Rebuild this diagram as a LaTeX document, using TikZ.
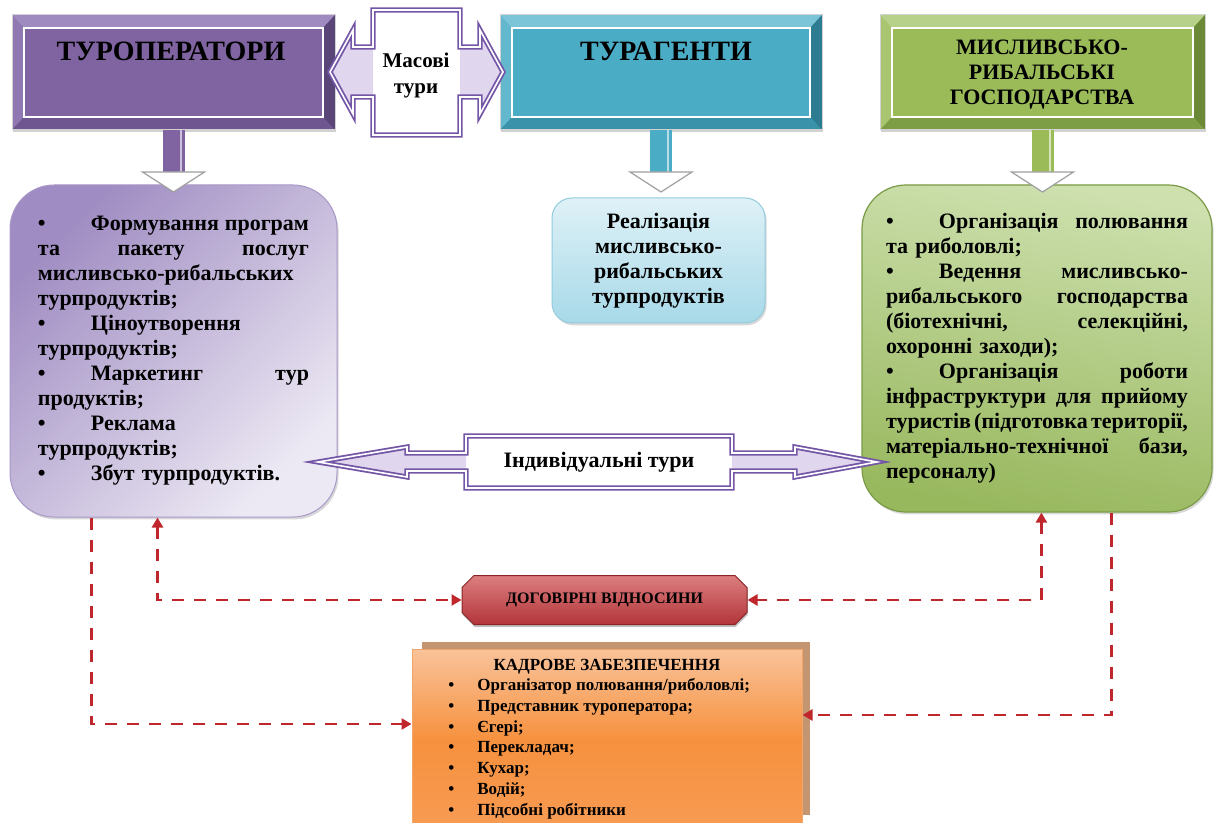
\documentclass[tikz,border=0pt]{standalone}
\usepackage{fontspec}
\setmainfont{Liberation Serif}
\usetikzlibrary{calc,arrows.meta,shapes.misc,shadows}
\definecolor{purF}{HTML}{8064A2}
\definecolor{purT}{HTML}{A08BC0}
\definecolor{purLf}{HTML}{9079B2}
\definecolor{purR}{HTML}{5A4578}
\definecolor{purBt}{HTML}{6F5690}
\definecolor{tlF}{HTML}{4BACC6}
\definecolor{tlT}{HTML}{7CC5D8}
\definecolor{tlLf}{HTML}{63B8CE}
\definecolor{tlR}{HTML}{2D7C91}
\definecolor{tlBt}{HTML}{3992AA}
\definecolor{grF}{HTML}{9BBB59}
\definecolor{grT}{HTML}{B7D08A}
\definecolor{grLf}{HTML}{A9C570}
\definecolor{grR}{HTML}{6C8937}
\definecolor{grBt}{HTML}{7E9E45}
\definecolor{arP}{HTML}{7456A6}
\definecolor{lav}{HTML}{E0D7EE}
\definecolor{dred}{HTML}{C0272D}
\definecolor{lpA}{HTML}{9F8CC2}
\definecolor{lpB}{HTML}{EDE9F4}
\definecolor{lpE}{HTML}{A998C8}
\definecolor{gA}{HTML}{CDE0AE}
\definecolor{gB}{HTML}{98B85E}
\definecolor{gE}{HTML}{7A9A45}
\definecolor{cA}{HTML}{DFF1F7}
\definecolor{cB}{HTML}{A7D9E8}
\definecolor{cE}{HTML}{92CCDD}
\definecolor{drT}{HTML}{DC7E7F}
\definecolor{drM}{HTML}{CB4E51}
\definecolor{drB}{HTML}{B3353A}
\definecolor{drE}{HTML}{8A2326}
\definecolor{kT}{HTML}{F9C39A}
\definecolor{kM}{HTML}{F6913E}
\definecolor{kB}{HTML}{F79A52}
\definecolor{kE}{HTML}{F0A56A}
\definecolor{kback}{HTML}{C39570}

\newcommand\bevelbox[6]{%
  \fill[#2] (#1.north west) -- (#1.north east) -- ($(#1.north east)+(-12,13)$) -- ($(#1.north west)+(12,13)$) -- cycle;
  \fill[#3] (#1.north west) -- ($(#1.north west)+(12,13)$) -- ($(#1.south west)+(12,-13)$) -- (#1.south west) -- cycle;
  \fill[#4] (#1.north east) -- (#1.south east) -- ($(#1.south east)+(-12,-13)$) -- ($(#1.north east)+(-12,13)$) -- cycle;
  \fill[#5] (#1.south west) -- ($(#1.south west)+(12,-13)$) -- ($(#1.south east)+(-12,-13)$) -- (#1.south east) -- cycle;
  \draw[white, line width=0.8pt, fill=#6] ($(#1.north west)+(12,13)$) rectangle ($(#1.south east)+(-12,-13)$);
  \draw[gray!35, line width=0.5pt] (#1.north west) rectangle (#1.south east);
}
\newcommand\blockarrow[3]{%
  \fill[#3] let \p1=(#1.south) in (\x1-5.5pt,\y1) rectangle (\x1+5.5pt,\y1-21pt);
  \fill[#3!40!white] let \p1=(#1.south) in (\x1+3pt,\y1) rectangle (\x1+4.2pt,\y1-21pt);
  \filldraw[fill=white, draw=gray!75, line width=0.6pt] let \p1=(#1.south), \p2=(#2.north) in
    (\x1-15.5pt,\y1-21pt) -- (\x1+15.5pt,\y1-21pt) -- (\x1,\y1-31pt) -- cycle;
}
\newcommand\jl[2]{\makebox[#1][l]{#2}}
\newcommand\bul{\makebox[26.5pt][l]{•}}
\newcommand\kb{\makebox[14.5pt][l]{•}}

\begin{document}
\begin{tikzpicture}[x=0.5pt,y=-0.5pt,
  topbox/.style={rectangle, minimum height=57.5pt, inner sep=0pt, outer sep=0pt, fill=#1,
     drop shadow={opacity=0.35,shadow xshift=0.6pt,shadow yshift=-1.2pt}},
  hd/.style={font=\fontsize{14}{16}\selectfont\bfseries},
  bd/.style={font=\fontsize{11}{12.5}\selectfont\bfseries},
  shd/.style={drop shadow={opacity=0.3,shadow xshift=0.8pt,shadow yshift=-1.2pt}},
  lbox/.style={rectangle, rounded corners=22pt, minimum height=166pt, text width=135.5pt,
     inner xsep=14pt, inner ysep=0pt, align=left, top color=lpA, bottom color=lpB,
     shading angle=45, draw=lpE, line width=0.5pt, shd, bd},
  rbox/.style={rectangle, rounded corners=22pt, minimum height=163.5pt, text width=151pt,
     inner xsep=12pt, inner ysep=0pt, align=left, top color=gA, bottom color=gB,
     shading angle=-10, draw=gE, line width=0.6pt, shd, bd},
  mbox/.style={rectangle, rounded corners=10pt, minimum height=62.5pt, minimum width=106.5pt,
     text width=92pt, inner sep=0pt, align=center, top color=cA, bottom color=cB,
     draw=cE, line width=0.5pt, shd, bd},
  dblp/.style={draw=arP, double=white, line width=0.9pt, double distance=0.8pt, line join=miter},
  dbox/.style={chamfered rectangle, chamfered rectangle xsep=3pt, chamfered rectangle ysep=3pt,
     minimum width=142.5pt, minimum height=24.5pt, inner sep=0pt, top color=drT, middle color=drM,
     bottom color=drB, draw=drE, line width=0.5pt, font=\fontsize{8}{9}\selectfont\bfseries,
     drop shadow={opacity=0.5,shadow xshift=0.3pt,shadow yshift=-1.3pt}},
  kbox/.style={rectangle, minimum width=195pt, minimum height=87pt, inner sep=0pt,
     draw=kE, line width=0.5pt},
  kf/.style={font=\fontsize{8.5}{10.4}\selectfont\bfseries},
  dsh/.style={draw=dred, line width=1.4pt, dash pattern=on 6pt off 5pt}
]
\useasboundingbox (0,0) rectangle (1215,823);
\fill[white] (0,0) rectangle (1215,823);

% top boxes
\node[topbox=purF, minimum width=161.5pt] (A) at (173.5,72.5) {};
\bevelbox{A}{purT}{purLf}{purR}{purBt}{purF}
\node[hd] (At) at (171,51) {ТУРОПЕРАТОРИ};

\node[topbox=tlF, minimum width=161pt] (B) at (661,72.5) {};
\bevelbox{B}{tlT}{tlLf}{tlR}{tlBt}{tlF}
\node[hd] (Bt) at (666,51) {ТУРАГЕНТИ};

\node[topbox=grF, minimum width=162.5pt] (C) at (1042.5,72.5) {};
\bevelbox{C}{grT}{grLf}{grR}{grBt}{grF}
\node[font=\fontsize{11}{12.5}\selectfont\bfseries, align=center] (Ct) at (1042,75) {МИСЛИВСЬКО-\\РИБАЛЬСЬКІ\\ГОСПОДАРСТВА};

% masovi tury shape
\fill[white] (373,10) -- (460,10) -- (460,47) -- (480,47) -- (480,30) -- (503,72) -- (480,114) -- (480,97) -- (460,97) -- (460,135) -- (373,135) -- (373,97) -- (353,97) -- (353,114) -- (330,72) -- (353,30) -- (353,47) -- (373,47) -- cycle;
\fill[lav] (373,47) -- (353,47) -- (353,30) -- (330,72) -- (353,114) -- (353,97) -- (373,97) -- cycle;
\fill[lav] (460,47) -- (480,47) -- (480,30) -- (503,72) -- (480,114) -- (480,97) -- (460,97) -- cycle;
\draw[dblp] (373,10) -- (460,10) -- (460,47) -- (480,47) -- (480,30) -- (503,72) -- (480,114) -- (480,97) -- (460,97) -- (460,135) -- (373,135) -- (373,97) -- (353,97) -- (353,114) -- (330,72) -- (353,30) -- (353,47) -- (373,47) -- cycle;
\node[font=\fontsize{10.5}{13}\selectfont\bfseries, align=center] (Mt) at (416,75) {Масові\\тури};

% content boxes
\node[lbox] (L) at (173.5,351) {%
\jl{135.5pt}{\bul Формування\hfill програм}\\
\jl{135.5pt}{та\hfill пакету\hfill послуг}\\
мисливсько-рибальських\\
турпродуктів;\\
\bul Ціноутворення\\
турпродуктів;\\
\jl{135.5pt}{\bul Маркетинг\hfill тур}\\
продуктів;\\
\bul Реклама\\
турпродуктів;\\
\bul Збут турпродуктів.};

\node[mbox] (Mb) at (658.5,260.5) {Реалізація\\мисливсько-\\рибальських\\турпродуктів};

\node[rbox] (R) at (1037,348.5) {%
\jl{151pt}{\bul Організація\hfill полювання}\\
та риболовлі;\\
\jl{151pt}{\bul Ведення\hfill мисливсько-}\\
\jl{151pt}{рибальського\hfill господарства}\\
\jl{151pt}{(біотехнічні,\hfill селекційні,}\\
охоронні заходи);\\
\jl{151pt}{\bul Організація\hfill роботи}\\
\jl{151pt}{інфраструктури\hfill для\hfill прийому}\\
\jl{151pt}{туристів\hfill (підготовка\hfill території,}\\
\jl{151pt}{матеріально-технічної\hfill бази,}\\
персоналу)};

\blockarrow{A}{L}{purF}
\blockarrow{B}{Mb}{tlF}
\blockarrow{C}{R}{grF}

% individual tours arrow
\fill[white] (466,436) -- (732,436) -- (732,453) -- (795,453) -- (795,447) -- (877,462) -- (795,477) -- (795,471) -- (732,471) -- (732,488) -- (466,488) -- (466,471) -- (407,471) -- (407,477) -- (318,462) -- (407,447) -- (407,453) -- (466,453) -- cycle;
\fill[lav] (466,453) -- (407,453) -- (407,447) -- (318,462) -- (407,477) -- (407,471) -- (466,471) -- cycle;
\fill[lav] (732,453) -- (795,453) -- (795,447) -- (877,462) -- (795,477) -- (795,471) -- (732,471) -- cycle;
\draw[dblp] (466,436) -- (732,436) -- (732,453) -- (795,453) -- (795,447) -- (877,462) -- (795,477) -- (795,471) -- (732,471) -- (732,488) -- (466,488) -- (466,471) -- (407,471) -- (407,477) -- (318,462) -- (407,447) -- (407,453) -- (466,453) -- cycle;
\node[bd] (It) at (599,462) {Індивідуальні тури};

% contract relations
\node[dbox] (D) at (604.5,600) {ДОГОВІРНІ ВІДНОСИНИ};

% staffing
\fill[kback] (422,642) rectangle (810,815);
\shade[top color=kT, bottom color=kM] (412,649) rectangle (802,740);
\shade[top color=kM, bottom color=kB] (412,739) rectangle (802,823);
\node[kbox] (K) at (607,736) {};
\node[kf] (Kt) at (607,667) {КАДРОВЕ ЗАБЕЗПЕЧЕННЯ};
\node[kf, anchor=north west, align=left, inner sep=0pt] (Kl) at (448,678) {%
\kb Організатор полювання/риболовлі;\\
\kb Представник туроператора;\\
\kb Єгері;\\
\kb Перекладач;\\
\kb Кухар;\\
\kb Водій;\\
\kb Підсобні робітники};

% dashed connectors
\draw[dsh,-{Triangle[length=5pt,width=5.5pt]}] ($(L.south west)+(82,0)$) |- ($(K.west)+(0,-12)$);
\draw[dsh,{Triangle[length=5pt,width=5.5pt]}-{Triangle[length=5pt,width=5.5pt]}] ($(L.south west)+(148,0)$) |- (D.west);
\draw[dsh,{Triangle[length=5pt,width=5.5pt]}-{Triangle[length=5pt,width=5.5pt]}] ($(R.south west)+(180,0)$) |- (D.east);
\draw[dsh,-{Triangle[length=5pt,width=5.5pt]}] ($(R.south west)+(250,0)$) |- ($(K.east)+(0,-21)$);
\end{tikzpicture}
\end{document}
